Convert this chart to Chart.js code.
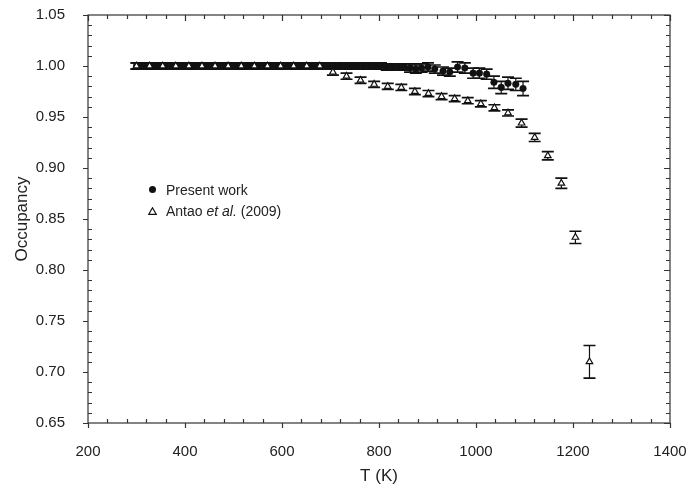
<!DOCTYPE html>
<html>
<head>
<meta charset="utf-8">
<script src="https://cdn.jsdelivr.net/npm/chart.js@4.4.1/dist/chart.umd.min.js"></script>
<style>
  html, body { margin: 0; padding: 0; background: #fff; }
  #wrap { position: relative; width: 688px; height: 493px; }
  #legenda { position: absolute; left: 146px; top: 179px; font: 14px "Liberation Sans", Arial, sans-serif; color: #222; }
  #legenda .linha { height: 21px; display: flex; align-items: center; }
  #legenda .simbolo { width: 13px; height: 10px; margin-right: 7px; display: flex; align-items: center; justify-content: center; }
  #legenda .bola { width: 7px; height: 7px; border-radius: 50%; background: #111; }
</style>
</head>
<body>
<div id="wrap">
  <canvas id="grafico" width="688" height="493"></canvas>
  <div id="legenda">
    <div class="linha"><span class="simbolo"><span class="bola"></span></span>Present work</div>
    <div class="linha"><span class="simbolo"><svg width="9" height="8"><polygon points="4.5,0.8 8.2,7.3 0.8,7.3" fill="#fff" stroke="#111" stroke-width="1.2"/></svg></span>Antao <i>&nbsp;et al.</i>&nbsp;(2009)</div>
  </div>
</div>
<script>
// Present work: ocupação vs temperatura
const presentT = [300, 312, 324, 336, 348, 360, 372, 384, 396, 408, 420, 432, 444, 456, 468, 480, 492,
    504, 516, 528, 540, 552, 564, 576, 588, 600, 612, 624, 636, 648, 660, 672, 684, 696, 708, 720,
    732, 744, 756, 768, 780, 792, 804, 816, 828, 840, 852, 864, 876, 888, 901, 915, 932, 946, 962,
    977, 994, 1007, 1022, 1037, 1052, 1066, 1082, 1097];
const presentOcc = [1.000, 1.000, 1.000, 1.000, 1.000, 1.000, 1.000, 1.000, 1.000, 1.000, 1.000, 1.000,
    1.000, 1.000, 1.000, 1.000, 1.000, 1.000, 1.000, 1.000, 1.000, 1.000, 1.000, 1.000, 1.000, 1.000,
    1.000, 1.000, 1.000, 1.000, 1.000, 1.000, 1.000, 1.000, 1.000, 1.000, 1.000, 1.000, 1.000, 1.000,
    1.000, 1.000, 1.000, 0.999, 0.999, 0.999, 0.999, 0.998, 0.997, 0.998, 0.999, 0.997, 0.995, 0.994,
    0.999, 0.998, 0.993, 0.993, 0.992, 0.984, 0.979, 0.983, 0.982, 0.978];
const presentErr = [0.003, 0.003, 0.003, 0.003, 0.003, 0.003, 0.003, 0.003, 0.003, 0.003, 0.003, 0.003,
    0.003, 0.003, 0.003, 0.003, 0.003, 0.003, 0.003, 0.003, 0.003, 0.003, 0.003, 0.003, 0.003, 0.003,
    0.003, 0.003, 0.003, 0.003, 0.003, 0.003, 0.003, 0.003, 0.003, 0.003, 0.003, 0.003, 0.003, 0.003,
    0.003, 0.003, 0.003, 0.003, 0.003, 0.003, 0.003, 0.004, 0.004, 0.004, 0.004, 0.004, 0.004, 0.004,
    0.005, 0.005, 0.005, 0.005, 0.005, 0.006, 0.006, 0.006, 0.006, 0.007];

// Antao et al. (2009)
const antaoT = [300, 327, 354, 381, 408, 435, 462, 489, 516, 543, 570, 597, 624, 651, 678, 705, 733,
    762, 790, 818, 846, 874, 902, 929, 956, 983, 1010, 1038, 1066, 1094, 1121, 1148, 1176, 1205, 1234];
const antaoOcc = [1.000, 1.000, 1.000, 1.000, 1.000, 1.000, 1.000, 1.000, 1.000, 1.000, 1.000, 1.000,
    1.000, 1.000, 1.000, 0.994, 0.990, 0.986, 0.982, 0.980, 0.979, 0.975, 0.973, 0.970, 0.968, 0.966,
    0.963, 0.959, 0.954, 0.944, 0.930, 0.912, 0.885, 0.832, 0.710];
const antaoErr = [0.003, 0.003, 0.003, 0.003, 0.003, 0.003, 0.003, 0.003, 0.003, 0.003, 0.003, 0.003,
    0.003, 0.003, 0.003, 0.003, 0.003, 0.003, 0.003, 0.003, 0.003, 0.003, 0.003, 0.003, 0.003, 0.003,
    0.003, 0.003, 0.003, 0.004, 0.004, 0.004, 0.005, 0.006, 0.016];

// Eixos
const xTicks = [200, 400, 600, 800, 1000, 1200, 1400];
const yTicks = [0.65, 0.70, 0.75, 0.80, 0.85, 0.90, 0.95, 1.00, 1.05];

const fonte = "'Liberation Sans', Arial, sans-serif";
const cor = "#222";

function pontos(ts, vs) {
    return ts.map((t, i) => ({ x: t, y: vs[i] }));
}

// Barras de erro com as escalas do próprio gráfico
const barrasErro = {
    id: "barrasErro",
    beforeDatasetsDraw(chart) {
        const ctx = chart.ctx;
        const sx = chart.scales.x, sy = chart.scales.y;
        ctx.save();
        ctx.strokeStyle = "#111";
        chart.data.datasets.forEach(ds => {
            ds.data.forEach((p, i) => {
                const e = ds.erros[i];
                const x = sx.getPixelForValue(p.x);
                const y1 = sy.getPixelForValue(p.y + e);
                const y2 = sy.getPixelForValue(p.y - e);
                ctx.lineWidth = 1.2;
                ctx.beginPath();
                ctx.moveTo(x, y1); ctx.lineTo(x, y2);
                ctx.stroke();
                ctx.lineWidth = 1.7;
                ctx.beginPath();
                ctx.moveTo(x - 6, y1); ctx.lineTo(x + 6, y1);
                ctx.moveTo(x - 6, y2); ctx.lineTo(x + 6, y2);
                ctx.stroke();
            });
        });
        ctx.restore();
    }
};

// Moldura com marcas nos quatro lados
const moldura = {
    id: "moldura",
    afterDraw(chart) {
        const ctx = chart.ctx;
        const a = chart.chartArea;
        const sx = chart.scales.x, sy = chart.scales.y;
        ctx.save();
        ctx.strokeStyle = "#333";
        ctx.lineWidth = 1.2;
        ctx.strokeRect(a.left, a.top, a.right - a.left, a.bottom - a.top);
        ctx.beginPath();
        for (let v = 200; v <= 1400; v += 40) {
            const x = Math.round(sx.getPixelForValue(v)) + 0.5;
            const maior = xTicks.includes(v);
            if (maior) {
                ctx.moveTo(x, a.bottom + 5); ctx.lineTo(x, a.bottom);
                ctx.moveTo(x, a.top); ctx.lineTo(x, a.top + 6);
            } else {
                ctx.moveTo(x, a.bottom); ctx.lineTo(x, a.bottom - 4);
                ctx.moveTo(x, a.top); ctx.lineTo(x, a.top + 4);
            }
        }
        for (let k = 65; k <= 105; k++) {
            const y = Math.round(sy.getPixelForValue(k / 100)) + 0.5;
            const maior = k % 5 === 0;
            if (maior) {
                ctx.moveTo(a.left - 5, y); ctx.lineTo(a.left, y);
                ctx.moveTo(a.right, y); ctx.lineTo(a.right - 6, y);
            } else {
                ctx.moveTo(a.left, y); ctx.lineTo(a.left + 4, y);
                ctx.moveTo(a.right, y); ctx.lineTo(a.right - 4, y);
            }
        }
        ctx.stroke();
        ctx.restore();
    }
};

const grafico = new Chart(document.getElementById("grafico"), {
    type: "scatter",
    data: {
        datasets: [
            {
                label: "Antao et al. (2009)",
                data: pontos(antaoT, antaoOcc),
                erros: antaoErr,
                pointStyle: "triangle",
                pointRadius: 3.8,
                backgroundColor: "#fff",
                borderColor: "#111",
                borderWidth: 1.2
            },
            {
                label: "Present work",
                data: pontos(presentT, presentOcc),
                erros: presentErr,
                pointStyle: "circle",
                pointRadius: 3.3,
                backgroundColor: "#111",
                borderColor: "#111",
                borderWidth: 0.5
            }
        ]
    },
    options: {
        responsive: false,
        animation: false,
        layout: { padding: { top: 15, right: 18, left: 0, bottom: 0 } },
        plugins: { legend: { display: false }, tooltip: { enabled: false } },
        scales: {
            x: {
                type: "linear",
                min: 200, max: 1400,
                afterBuildTicks: s => { s.ticks = xTicks.map(v => ({ value: v })); },
                afterFit: s => { s.height = 70; s.paddingLeft = 0; s.paddingRight = 0; },
                grid: { display: false },
                border: { display: false },
                ticks: { padding: 12, color: cor, font: { family: fonte, size: 15 }, maxRotation: 0, callback: v => String(v) },
                title: { display: true, text: "T (K)", color: cor, font: { family: fonte, size: 17 }, padding: { top: 0, bottom: 6 } }
            },
            y: {
                type: "linear",
                min: 0.65, max: 1.05,
                afterBuildTicks: s => { s.ticks = yTicks.map(v => ({ value: v })); },
                afterFit: s => { s.width = 88; s.paddingTop = 0; s.paddingBottom = 0; },
                grid: { display: false },
                border: { display: false },
                ticks: { padding: 15, color: cor, font: { family: fonte, size: 15 }, callback: v => v.toFixed(2) },
                title: { display: true, text: "Occupancy", color: cor, font: { family: fonte, size: 17 }, padding: { top: 12, bottom: 0 } }
            }
        }
    },
    plugins: [barrasErro, moldura]
});
</script>
</body>
</html>
